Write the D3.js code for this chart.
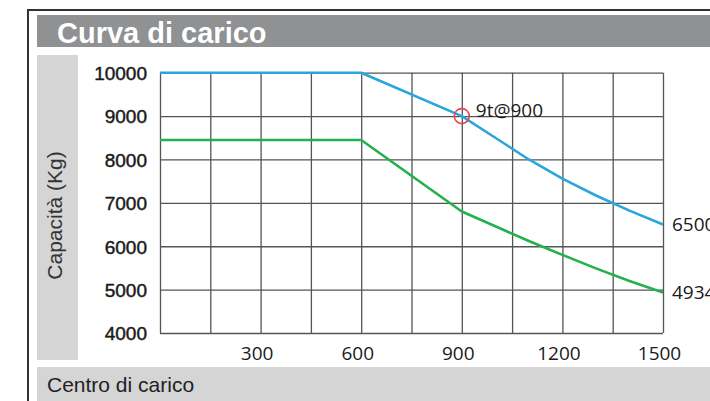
<!DOCTYPE html>
<html><head><meta charset="utf-8">
<script src="https://cdn.jsdelivr.net/npm/d3@7"></script>
<style>html,body{margin:0;padding:0;background:#fff;overflow:hidden}</style>
</head><body>
<svg id="c" width="710" height="401"></svg>
<script>
const title = "Curva di carico";
const yLabel = "Capacità (Kg)";
const xLabel = "Centro di carico";
const xTicks = [300, 600, 900, 1200, 1500];
const yTicks = [4000, 5000, 6000, 7000, 8000, 9000, 10000];
const centers = [0, 600, 900, 1000, 1100, 1200, 1300, 1400, 1500];
const blueCap = [10000, 10000, 9000, 8500, 8000, 7560, 7170, 6820, 6500];
const greenCap = [8450, 8450, 6800, 6460, 6120, 5800, 5490, 5200, 4934];
const markX = 900, markY = 9000, markText = "9t@900";
const endLabels = ["6500", "4934"];

const svg = d3.select("#c");
const x = d3.scaleLinear().domain([0, 1500]).range([160, 663]);
const y = d3.scaleLinear().domain([4000, 10000]).range([333, 72.7]);

// frame
svg.append("rect").attr("x", 37).attr("y", 15).attr("width", 673).attr("height", 32).attr("fill", "#8f9192");
svg.append("line").attr("x1", 27).attr("x2", 710).attr("y1", 10).attr("y2", 10).attr("stroke", "#333").attr("stroke-width", 2.2);
svg.append("line").attr("x1", 28).attr("x2", 28).attr("y1", 9).attr("y2", 401).attr("stroke", "#333").attr("stroke-width", 2);
svg.append("rect").attr("x", 37).attr("y", 55).attr("width", 41).attr("height", 305).attr("fill", "#d5d5d5");
svg.append("rect").attr("x", 37).attr("y", 367).attr("width", 673).attr("height", 34).attr("fill", "#d5d5d5");

svg.append("text").attr("x", 57).attr("y", 42.5).text(title)
  .attr("font-family", "Liberation Sans, Arial, sans-serif").attr("font-weight", "bold")
  .attr("font-size", 29).attr("fill", "#fff");
svg.append("text").attr("x", 47).attr("y", 391.5).text(xLabel)
  .attr("font-family", "Liberation Sans, Arial, sans-serif").attr("font-size", 21).attr("fill", "#222");
svg.append("text").attr("transform", "translate(62,215.5) rotate(-90)").attr("text-anchor", "middle").text(yLabel)
  .attr("font-family", "Liberation Sans, Arial, sans-serif").attr("font-size", 21).attr("fill", "#333");

// grid
const g = svg.append("g");
g.append("g").attr("transform", "translate(0,0)")
  .call(d3.axisBottom(x).tickValues(d3.range(0, 1501, 150)).tickSize(y(4000) - y(10000)).tickFormat(""))
  .attr("transform", `translate(0,${y(10000)})`)
  .call(s => s.select(".domain").remove())
  .call(s => s.selectAll("line").attr("stroke", "#555").attr("stroke-width", 1.3));
g.append("g").attr("transform", `translate(${x(0)},0)`)
  .call(d3.axisRight(y).tickValues(yTicks).tickSize(x(1500) - x(0)).tickFormat(""))
  .call(s => s.select(".domain").remove())
  .call(s => s.selectAll("line").attr("stroke", "#555").attr("stroke-width", 1.3));

// tick labels
const yAx = svg.append("g").attr("transform", `translate(${x(0)},0)`)
  .call(d3.axisLeft(y).tickValues(yTicks).tickSize(0).tickPadding(13).tickFormat(d3.format("d")));
yAx.select(".domain").remove();
yAx.selectAll("text").attr("font-family", "Liberation Sans, Arial, sans-serif").attr("font-size", 19)
  .attr("fill", "#1a1a1a").attr("stroke", "#1a1a1a").attr("stroke-width", 0.45).attr("dy", "0.36em");

const xAx = svg.append("g").attr("transform", `translate(0,${y(4000)})`)
  .call(d3.axisBottom(x).tickValues(xTicks).tickSize(0).tickPadding(14).tickFormat(d3.format("d")));
xAx.select(".domain").remove();
xAx.selectAll("text").attr("font-family", "Open Sans, sans-serif").attr("font-size", 19).attr("fill", "#1a1a1a")
  .attr("dx", -4);

// lines
const line = d3.line().x(d => x(d[0])).y(d => y(d[1]));
svg.append("path").datum(d3.zip(centers, greenCap)).attr("d", line)
  .attr("fill", "none").attr("stroke", "#23b14d").attr("stroke-width", 2.6).attr("stroke-linejoin", "round");
svg.append("path").datum(d3.zip(centers, blueCap)).attr("d", line)
  .attr("fill", "none").attr("stroke", "#2aa6dd").attr("stroke-width", 2.6).attr("stroke-linejoin", "round");

svg.append("circle").attr("cx", x(markX)).attr("cy", y(markY)).attr("r", 7.5)
  .attr("fill", "none").attr("stroke", "#e5474b").attr("stroke-width", 1.6);
svg.append("text").attr("x", x(markX) + 14).attr("y", y(markY) + 1).text(markText)
  .attr("font-family", "Open Sans, sans-serif").attr("font-size", 19).attr("fill", "#1a1a1a");

const lastIdx = centers.length - 1;
[[blueCap[lastIdx], endLabels[0]], [greenCap[lastIdx], endLabels[1]]].forEach(([v, t]) => {
  svg.append("text").attr("x", x(1500) + 9).attr("y", y(v)).attr("dy", "0.36em").text(t)
    .attr("font-family", "Open Sans, sans-serif").attr("font-size", 19).attr("fill", "#1a1a1a");
});
</script>
</body></html>
